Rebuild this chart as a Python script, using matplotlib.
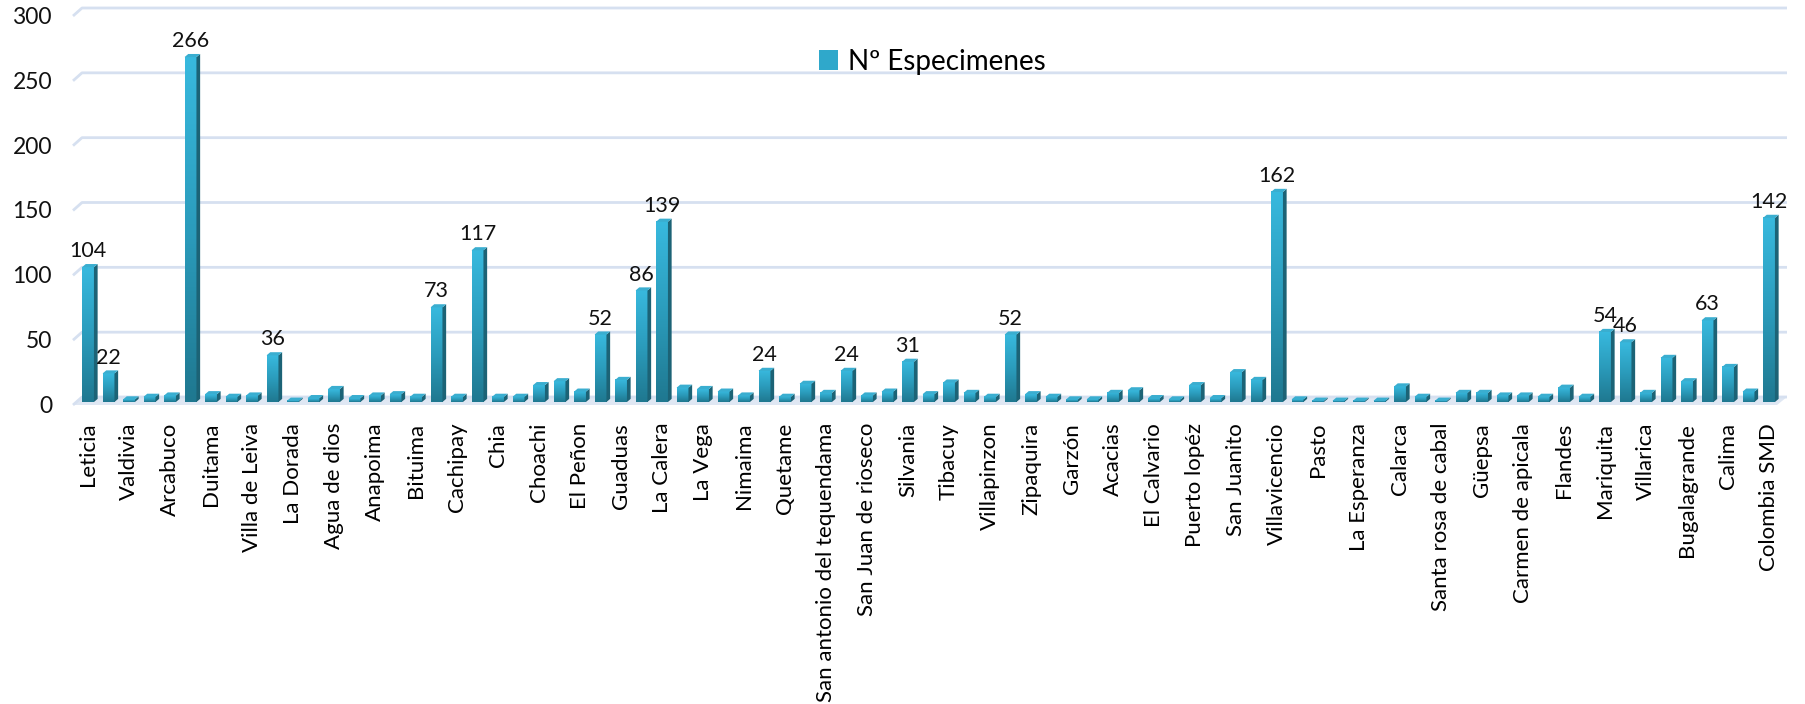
import numpy as np
import matplotlib
matplotlib.use("Agg")
import matplotlib.pyplot as plt
import matplotlib.transforms as mtransforms
from matplotlib.patches import Polygon, Patch
from matplotlib.colors import LinearSegmentedColormap

plt.rcParams['font.family'] = ['Lato', 'DejaVu Sans']

# specimens per locality (83 bars, only every second locality name is printed)
values = [104, 22, 2, 4, 5, 266, 6, 4, 5, 36,
          1, 3, 10, 3, 5, 6, 4, 73, 4, 117,
          4, 4, 13, 16, 8, 52, 17, 86, 139, 11,
          10, 8, 5, 24, 4, 14, 7, 24, 5, 8,
          31, 6, 15, 7, 4, 52, 6, 4, 2, 2,
          7, 9, 3, 2, 13, 3, 23, 17, 162, 2,
          1, 1, 1, 1, 12, 4, 1, 7, 7, 5,
          5, 4, 11, 4, 54, 46, 7, 34, 16, 63,
          27, 8, 142]

shown_names = ['Leticia', 'Valdivia', 'Arcabuco', 'Duitama', 'Villa de Leiva',
               'La Dorada', 'Agua de dios', 'Anapoima', 'Bituima', 'Cachipay',
               'Chia', 'Choachi', 'El Peñon', 'Guaduas', 'La Calera', 'La Vega',
               'Nimaima', 'Quetame', 'San antonio del tequendama',
               'San Juan de rioseco', 'Silvania', 'Tibacuy', 'Villapinzon',
               'Zipaquira', 'Garzón', 'Acacias', 'El Calvario', 'Puerto lopéz',
               'San Juanito', 'Villavicencio', 'Pasto', 'La Esperanza', 'Calarca',
               'Santa rosa de cabal', 'Güepsa', 'Carmen de apicala', 'Flandes',
               'Mariquita', 'Villarica', 'Bugalagrande', 'Calima', 'Colombia SMD']

# bars that carry a value label
labeled = [0, 1, 5, 9, 17, 19, 25, 27, 28, 33, 37, 40, 45, 58, 74, 75, 79, 82]

yticks = [0, 50, 100, 150, 200, 250, 300]
series_name = 'Nº Especimenes'

W, H = 1805, 704
ax_l, ax_r, ax_b, ax_t = 73, 1787, 402, 13
aw, ah = ax_r - ax_l, ax_b - ax_t

fig = plt.figure(figsize=(W / 100, H / 100), dpi=100)
ax = fig.add_axes([ax_l / W, 1 - ax_b / H, aw / W, ah / H])
ax.set_xlim((ax_l - 88) / 20.5, (ax_r - 88) / 20.5)
ax.set_ylim(0, 300)
for s in ax.spines.values():
    s.set_visible(False)

grid_c = '#d6e0f0'
back = 5 / ah
front = 3 / ah
slant = 9 / aw

# floor of the 3d chart
floor = Polygon([(0, -front), ((1777 - ax_l) / aw, -front), (1, back), (slant, back)],
                closed=True, transform=ax.transAxes, facecolor='#dfe7f3',
                edgecolor='none', zorder=1, clip_on=False)
ax.add_patch(floor)

for v in yticks:
    yv = v / 300
    ax.plot([0, slant, 1], [yv - front, yv + back, yv + back], color=grid_c, lw=2,
            transform=ax.transAxes, clip_on=False, zorder=1, solid_capstyle='butt')

# bars with a vertical gradient and a fake 3d side / top
cmap = LinearSegmentedColormap.from_list('col', ['#1f7890', '#2b9cbc', '#38b9de'])
grad = np.linspace(0, 1, 100).reshape(-1, 1)
x = np.arange(len(values))
bw = 0.58
dx = 0.18
dy = 2.4
bars = ax.bar(x, values, width=bw, color='none', zorder=3)
for b, v in zip(bars, values):
    x0 = b.get_x()
    x1 = x0 + b.get_width()
    ax.imshow(grad, extent=[x0, x1, 0, v], origin='lower', cmap=cmap,
              aspect='auto', zorder=3, interpolation='bilinear')
    side = Polygon([(x1, 0), (x1, v), (x1 + dx, v + dy), (x1 + dx, dy)],
                   closed=True, facecolor='#1c6376', edgecolor='none', zorder=3)
    top = Polygon([(x0, v), (x1, v), (x1 + dx, v + dy), (x0 + dx, v + dy)],
                  closed=True, facecolor='#3aaed0', edgecolor='none', zorder=3)
    ax.add_patch(side)
    ax.add_patch(top)

ax.set_xlim((ax_l - 88) / 20.5, (ax_r - 88) / 20.5)
ax.set_ylim(0, 300)

for i in labeled:
    ax.annotate(str(values[i]), (x[i], values[i]), xytext=(0, 11.5),
                textcoords='offset points', ha='center', va='center',
                fontsize=15.5, color='#111111', zorder=5)

ax.set_xticks(x[::2])
ax.set_xticklabels(shown_names, rotation=90, fontsize=16, va='top', ha='center')
ax.tick_params(axis='x', length=0, pad=15)

ax.set_yticks([])
offset = mtransforms.ScaledTranslation(0, -4.5 / 100, fig.dpi_scale_trans)
for v in yticks:
    ax.text((52 - ax_l) / aw, v, str(v), transform=ax.get_yaxis_transform() + offset,
            ha='right', va='center', fontsize=16.5, color='#111111')

fig.legend(handles=[Patch(facecolor='#2fa8cb')], labels=[series_name], loc='center',
           bbox_to_anchor=(932 / W, 1 - 61.7 / H), frameon=False, fontsize=20,
           handlelength=0.7, handleheight=0.7, handletextpad=0.35)

fig.savefig('out.png', dpi=100)
